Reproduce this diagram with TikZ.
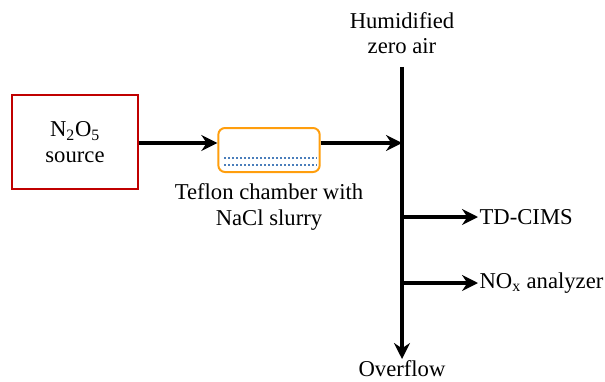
\documentclass[tikz,border=0pt]{standalone}
\usepackage{fontspec}
\setmainfont{Liberation Serif}
\usepackage{tikz}
\usetikzlibrary{arrows.meta, positioning}
\definecolor{srcred}{HTML}{C00000}
\definecolor{chamberorange}{HTML}{FF9E0D}
\definecolor{slurryblue}{HTML}{4A7EBB}
\begin{document}
\begin{tikzpicture}[x=0.75pt, y=-0.75pt,
box/.style={rectangle, draw=srcred, line width=1.5pt, minimum width=94pt, minimum height=70pt, align=center, font=\fontsize{17}{19}\selectfont},
chamberbox/.style={rectangle, draw=chamberorange, line width=1.5pt, rounded corners=5pt, minimum width=76pt, minimum height=33pt},
lbl/.style={align=center, font=\fontsize{17}{19}\selectfont, inner sep=1pt},
arr/.style={-{Stealth[length=12pt, width=12pt, inset=4pt]}, line width=2.5pt},
slurry/.style={slurryblue, line width=1.6pt, dash pattern=on 1.5pt off 1.5pt}
]
\useasboundingbox (0,0) rectangle (605,381);
\node[box] (source) at (75,142) {N\textsubscript{2}O\textsubscript{5}\\source};
\node[chamberbox] (chamber) at (269,150) {};
\node[lbl, below=7pt of chamber] (chamberlabel) {Teflon chamber with\\NaCl slurry};
\node[lbl] (air) at (402,33) {Humidified\\zero air};
\node[lbl, anchor=north] (overflow) at (402,359) {Overflow};
\coordinate (inlet) at (402,67);
\coordinate (merge) at (402,143);
\coordinate (tap1) at (402,217);
\coordinate (tap2) at (402,283);
\node[lbl, anchor=west] (tdcims) at (478,217) {TD-CIMS};
\node[lbl, anchor=west] (nox) at (478,283) {NO\textsubscript{x} analyzer};
% slurry inside the chamber
\draw[slurry] ([xshift=5pt, yshift=-6pt]chamber.west) -- ([xshift=-3pt, yshift=-6pt]chamber.east);
\draw[slurry] ([xshift=5pt, yshift=-11pt]chamber.west) -- ([xshift=-3pt, yshift=-11pt]chamber.east);
% flow lines
\draw[arr] (source.east |- merge) -- (chamber.west |- merge);
\draw[arr] (chamber.east |- merge) -- (merge);
\draw[arr] (inlet) -- (overflow.north);
\draw[arr] (tap1) -- (tdcims.west);
\draw[arr] (tap2) -- (nox.west);
\end{tikzpicture}
\end{document}
